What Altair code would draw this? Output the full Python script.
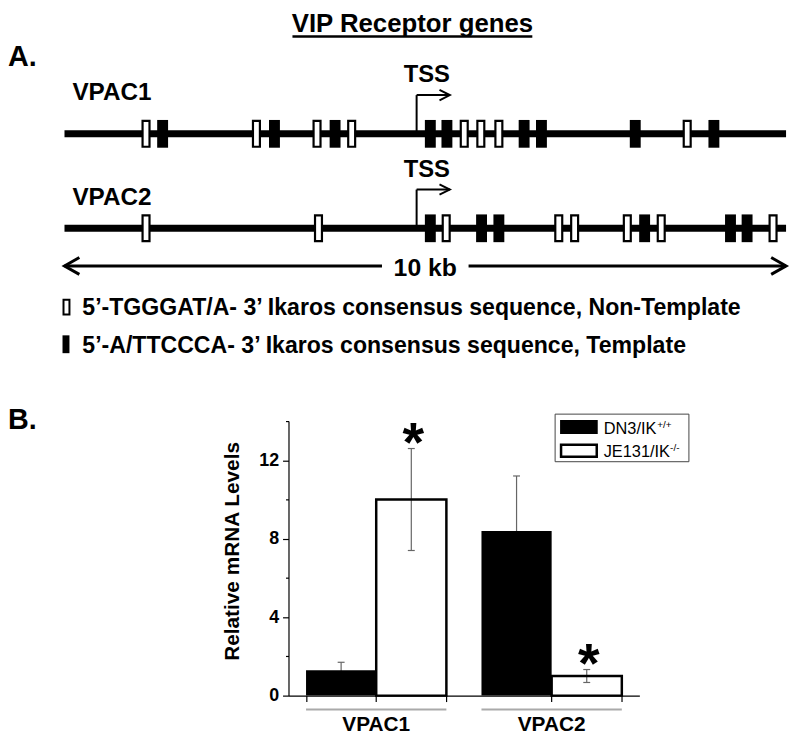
import altair as alt
import pandas as pd

FONT = "Liberation Sans"

# ---------------- data ----------------
genes = ["VPAC1", "VPAC2"]
gene_track = [1, 2]
gene_length_kb = [10, 10]
tss_kb = [4.88, 4.88]

# Ikaros consensus sites, kb from the 5' end of the 10 kb region
nontemplate_vpac1 = [1.13, 2.66, 3.50, 3.98, 5.54, 5.77, 6.02, 8.63]
template_vpac1 = [1.36, 2.91, 3.75, 5.07, 5.30, 6.37, 6.61, 7.91, 9.00]
nontemplate_vpac2 = [1.13, 3.52, 5.29, 6.85, 7.07, 7.80, 8.27, 9.82]
template_vpac2 = [5.07, 5.78, 6.02, 8.04, 9.23, 9.46]

legend_texts = [
    "5\u2019-TGGGAT/A- 3\u2019 Ikaros consensus sequence, Non-Template",
    "5\u2019-A/TTCCCA- 3\u2019 Ikaros consensus sequence, Template",
]
scale_bar_label = "10 kb"
title_text = "VIP Receptor genes"

cell_lines = ["DN3/IK+/+", "JE131/IK-/-"]
cell_line_base = ["DN3/IK", "JE131/IK"]
cell_line_sup = ["+/+", "-/-"]
mrna_vpac1 = [1.3, 10.0]
mrna_vpac2 = [8.4, 1.0]
sem_vpac1 = [0.4, 2.6]
sem_vpac2 = [2.8, 0.33]
significant_vpac1 = [False, True]
significant_vpac2 = [False, True]
y_ticks = [0, 2, 4, 6, 8, 10, 12, 14]

# ---------------- tables ----------------
genes_df = pd.DataFrame({"gene": genes, "track": gene_track, "start": 0,
                         "end": gene_length_kb, "tss": tss_kb})
site_rows = []
for g, t, nt, tp in [("VPAC1", 1, nontemplate_vpac1, template_vpac1),
                     ("VPAC2", 2, nontemplate_vpac2, template_vpac2)]:
    site_rows += [dict(gene=g, track=t, kb=k, type="Non-Template") for k in nt]
    site_rows += [dict(gene=g, track=t, kb=k, type="Template") for k in tp]
sites_df = pd.DataFrame(site_rows)
scalebar_df = pd.DataFrame({"start": [0], "end": [max(gene_length_kb)], "label": [scale_bar_label]})
legendA_df = pd.DataFrame({"type": ["Non-Template", "Template"], "text": legend_texts})
one = pd.DataFrame({"k": [0]})

bar_rows = []
for g, means, sems, sigs in [("VPAC1", mrna_vpac1, sem_vpac1, significant_vpac1),
                             ("VPAC2", mrna_vpac2, sem_vpac2, significant_vpac2)]:
    for cl, m, s, sig in zip(cell_lines, means, sems, sigs):
        bar_rows.append(dict(gene=g, line=cl, mean=m, lo=m - s, hi=m + s, sig=sig))
bars_df = pd.DataFrame(bar_rows)
legendB_df = pd.DataFrame({"line": cell_lines, "base": cell_line_base, "sup": cell_line_sup})

# ---------------- panel A ----------------
XS = alt.Scale(domain=[0, max(gene_length_kb)], range=[57, 785])
YS = alt.Scale(domain=[1, 2], range=[123.7, 219.0])


def xk(f):
    return alt.X(f"{f}:Q", scale=XS, axis=None)


def yt(f):
    return alt.Y(f"{f}:Q", scale=YS, axis=None)


base_genes = alt.Chart(genes_df)
tss_calc = base_genes.transform_calculate(top="datum.track - 0.41", tip="datum.tss + 0.46")

tss_stem = tss_calc.mark_rule(color="black", strokeWidth=2).encode(x=xk("tss"), y=yt("top"), y2="track:Q")
tss_h = tss_calc.mark_rule(color="black", strokeWidth=2).encode(x=xk("tss"), x2="tip:Q", y=yt("top"))
tss_head = tss_calc.mark_point(shape="M-2.6,-1.3L0,0L-2.6,1.3", size=64, filled=False,
                               color="black", strokeWidth=2, opacity=1).encode(x=xk("tip"), y=yt("top"))
tss_text = base_genes.mark_text(text="TSS", align="left", baseline="alphabetic", dx=-13, dy=-52,
                                font=FONT, fontSize=24, fontWeight="bold", color="black").encode(
    x=xk("tss"), y=yt("track"))
gene_line = base_genes.mark_rule(color="black", strokeWidth=7).encode(x=xk("start"), x2="end:Q", y=yt("track"))

templ = alt.Chart(sites_df).transform_filter("datum.type == 'Template'").mark_tick(
    orient="vertical", thickness=11, size=28, color="black", opacity=1).encode(x=xk("kb"), y=yt("track"))
nontempl = alt.Chart(sites_df).transform_filter("datum.type == 'Non-Template'").mark_tick(
    orient="vertical", thickness=7, size=26, fill="white", stroke="black", strokeWidth=2.2,
    opacity=1).encode(x=xk("kb"), y=yt("track"))

gene_labels = [
    alt.Chart(genes_df).transform_filter(f"datum.gene == '{g}'").mark_text(
        align="left", baseline="alphabetic", font=FONT, fontSize=24.5, fontWeight="bold", color="black"
    ).encode(x=alt.value(65), y=alt.value(yy), text="gene:N")
    for g, yy in zip(genes, [90, 195])
]

sb = alt.Chart(scalebar_df).transform_calculate(
    mid="(datum.start + datum.end) / 2", gl="(datum.start + datum.end) / 2 - 0.6",
    gr="(datum.start + datum.end) / 2 + 0.6")
sb_left = sb.mark_rule(color="black", strokeWidth=3).encode(x=xk("start"), x2="gl:Q", y=alt.value(257))
sb_right = sb.mark_rule(color="black", strokeWidth=3).encode(x=xk("gr"), x2="end:Q", y=alt.value(257))
sb_lhead = sb.mark_point(shape="M3,-1.7L0,0L3,1.7", size=100, filled=False, color="black",
                         strokeWidth=3, opacity=1).encode(x=xk("start"), y=alt.value(257))
sb_rhead = sb.mark_point(shape="M-3,-1.7L0,0L-3,1.7", size=100, filled=False, color="black",
                         strokeWidth=3, opacity=1).encode(x=xk("end"), y=alt.value(257))
sb_text = sb.mark_text(align="center", baseline="alphabetic", font=FONT, fontSize=25,
                       fontWeight="bold", color="black").encode(x=xk("mid"), y=alt.value(267), text="label:N")

title = alt.Chart(one).mark_text(text=title_text, align="center", baseline="alphabetic", font=FONT,
                                 fontSize=26, fontWeight="bold", color="black").encode(
    x=alt.value(408), y=alt.value(21))
underline = alt.Chart(one).mark_rule(color="black", strokeWidth=2.5).encode(
    x=alt.value(287), x2=alt.value(529), y=alt.value(25.5))
label_a = alt.Chart(one).mark_text(text="A.", align="left", baseline="alphabetic", font=FONT,
                                   fontSize=29, fontWeight="bold", color="black").encode(
    x=alt.value(0), y=alt.value(55))

leg_open = alt.Chart(one).mark_rect(fill="white", stroke="black", strokeWidth=2).encode(
    x=alt.value(56), x2=alt.value(62), y=alt.value(291), y2=alt.value(306))
leg_fill = alt.Chart(one).mark_rect(color="black").encode(
    x=alt.value(55), x2=alt.value(62), y=alt.value(327), y2=alt.value(345))
leg_texts = [
    alt.Chart(legendA_df).transform_filter(f"datum.type == '{t}'").mark_text(
        align="left", baseline="alphabetic", font=FONT, fontSize=23.3, fontWeight="bold", color="black"
    ).encode(x=alt.value(75), y=alt.value(yy), text="text:N")
    for t, yy in zip(["Non-Template", "Template"], [306, 345])
]

panel_a = alt.layer(
    tss_stem, gene_line, tss_h, tss_head, tss_text, templ, nontempl, *gene_labels,
    sb_left, sb_right, sb_lhead, sb_rhead, sb_text, title, underline, label_a,
    leg_open, leg_fill, *leg_texts
).properties(width=785, height=372)

# ---------------- panel B ----------------
XB = alt.Scale(domain=genes, paddingInner=0.2, paddingOuter=0.1)
XOFF = alt.XOffset("line:N", scale=alt.Scale(domain=cell_lines))
YB = alt.Scale(domain=[0, 14])
yaxis = alt.Axis(
    values=y_ticks, labelExpr="datum.value % 4 == 0 ? datum.label : ''",
    tickSize={"condition": {"test": "datum.value % 4 == 0", "value": 6}, "value": 3},
    title="Relative mRNA Levels", titleFont=FONT, titleFontSize=21, titleFontWeight="bold",
    titleColor="black", titlePadding=16, titleY=131,
    labelFont=FONT, labelFontSize=18, labelFontWeight="bold", labelColor="black", labelPadding=4,
    grid=False, domainColor="black", domainWidth=1.2, tickColor="black", tickWidth=1.2)


def xb(axis=None):
    return alt.X("gene:N", scale=XB, axis=axis)


def yb(f):
    return alt.Y(f"{f}:Q", scale=YB, axis=yaxis)


main_xaxis = alt.Axis(orient="bottom", title=None, labelAngle=0, labelFont=FONT, labelFontSize=21,
                      labelFontWeight="bold", labelColor="black", labelPadding=12, tickSize=6,
                      tickColor="black", tickWidth=1.2, domainColor="black", domainWidth=1.2)
extra_xaxis = alt.Axis(orient="bottom", title=None, labels=False, domain=False, tickBand="extent",
                       tickExtra=True, tickSize=6, tickColor="black", tickWidth=1.2)

bb = alt.Chart(bars_df)
err_rule = bb.mark_rule(color="#666666", strokeWidth=1.2).encode(x=xb(), xOffset=XOFF, y=yb("lo"), y2="hi:Q")
err_top = bb.mark_tick(color="#666666", thickness=1.2, size=7, orient="horizontal", opacity=1).encode(
    x=xb(), xOffset=XOFF, y=yb("hi"))
err_bot = bb.mark_tick(color="#666666", thickness=1.2, size=7, orient="horizontal", opacity=1).encode(
    x=xb(), xOffset=XOFF, y=yb("lo"))
bar_fill = bb.transform_filter(f"datum.line == '{cell_lines[0]}'").mark_bar(color="black").encode(
    x=xb(main_xaxis), xOffset=XOFF, y=yb("mean"))
bar_open = bb.transform_filter(f"datum.line == '{cell_lines[1]}'").mark_bar(
    fill="white", fillOpacity=0, stroke="black", strokeWidth=2.5).encode(x=xb(), xOffset=XOFF, y=yb("mean"))
stars = bb.transform_filter("datum.sig").mark_text(text="*", align="center", baseline="alphabetic",
                                                   dy=13, dx=2, font=FONT, fontSize=56, fontWeight="bold",
                                                   color="black").encode(x=xb(), xOffset=XOFF, y=yb("hi"))
underlines = alt.Chart(pd.DataFrame({"gene": genes})).mark_bar(color="#aaaaaa").encode(
    x=xb(extra_xaxis), y=alt.value(290), y2=alt.value(292))

leg_box = alt.Chart(one).mark_rect(fill="white", fillOpacity=0, stroke="#444444", strokeWidth=1).encode(
    x=alt.value(269), x2=alt.value(404), y=alt.value(-7), y2=alt.value(41))
leg_sw1 = alt.Chart(one).mark_rect(color="black").encode(
    x=alt.value(274), x2=alt.value(312), y=alt.value(-1), y2=alt.value(13))
leg_sw2 = alt.Chart(one).mark_rect(fill="white", stroke="black", strokeWidth=2.5).encode(
    x=alt.value(275), x2=alt.value(311), y=alt.value(24), y2=alt.value(36))
leg_b_texts = []
for cl, yy, sx in zip(cell_lines, [13, 36], [372, 385]):
    src = alt.Chart(legendB_df).transform_filter(f"datum.line == '{cl}'")
    leg_b_texts.append(src.mark_text(align="left", baseline="alphabetic", font=FONT, fontSize=16.5,
                                     color="black").encode(x=alt.value(318), y=alt.value(yy), text="base:N"))
    leg_b_texts.append(src.mark_text(align="left", baseline="alphabetic", font=FONT, fontSize=10,
                                     color="black").encode(x=alt.value(sx), y=alt.value(yy - 6), text="sup:N"))

panel_b = alt.layer(
    err_rule, err_top, err_bot, bar_fill, bar_open, stars, underlines,
    leg_box, leg_sw1, leg_sw2, *leg_b_texts
).resolve_axis(x="independent").properties(width=354, height=277)

spacer = alt.Chart(pd.DataFrame({"t": ["B."]})).mark_text(
    align="left", baseline="alphabetic", font=FONT, fontSize=29, fontWeight="bold", color="black"
).encode(x=alt.value(0), y=alt.value(8), text="t:N").properties(width=215, height=277)

row_b = alt.hconcat(spacer, panel_b, spacing=0)

chart = alt.vconcat(panel_a, row_b, spacing=26.5, padding=0, background="white").configure_view(stroke=None)

chart.save("out.html", embed_options={"renderer": "svg", "actions": False})
